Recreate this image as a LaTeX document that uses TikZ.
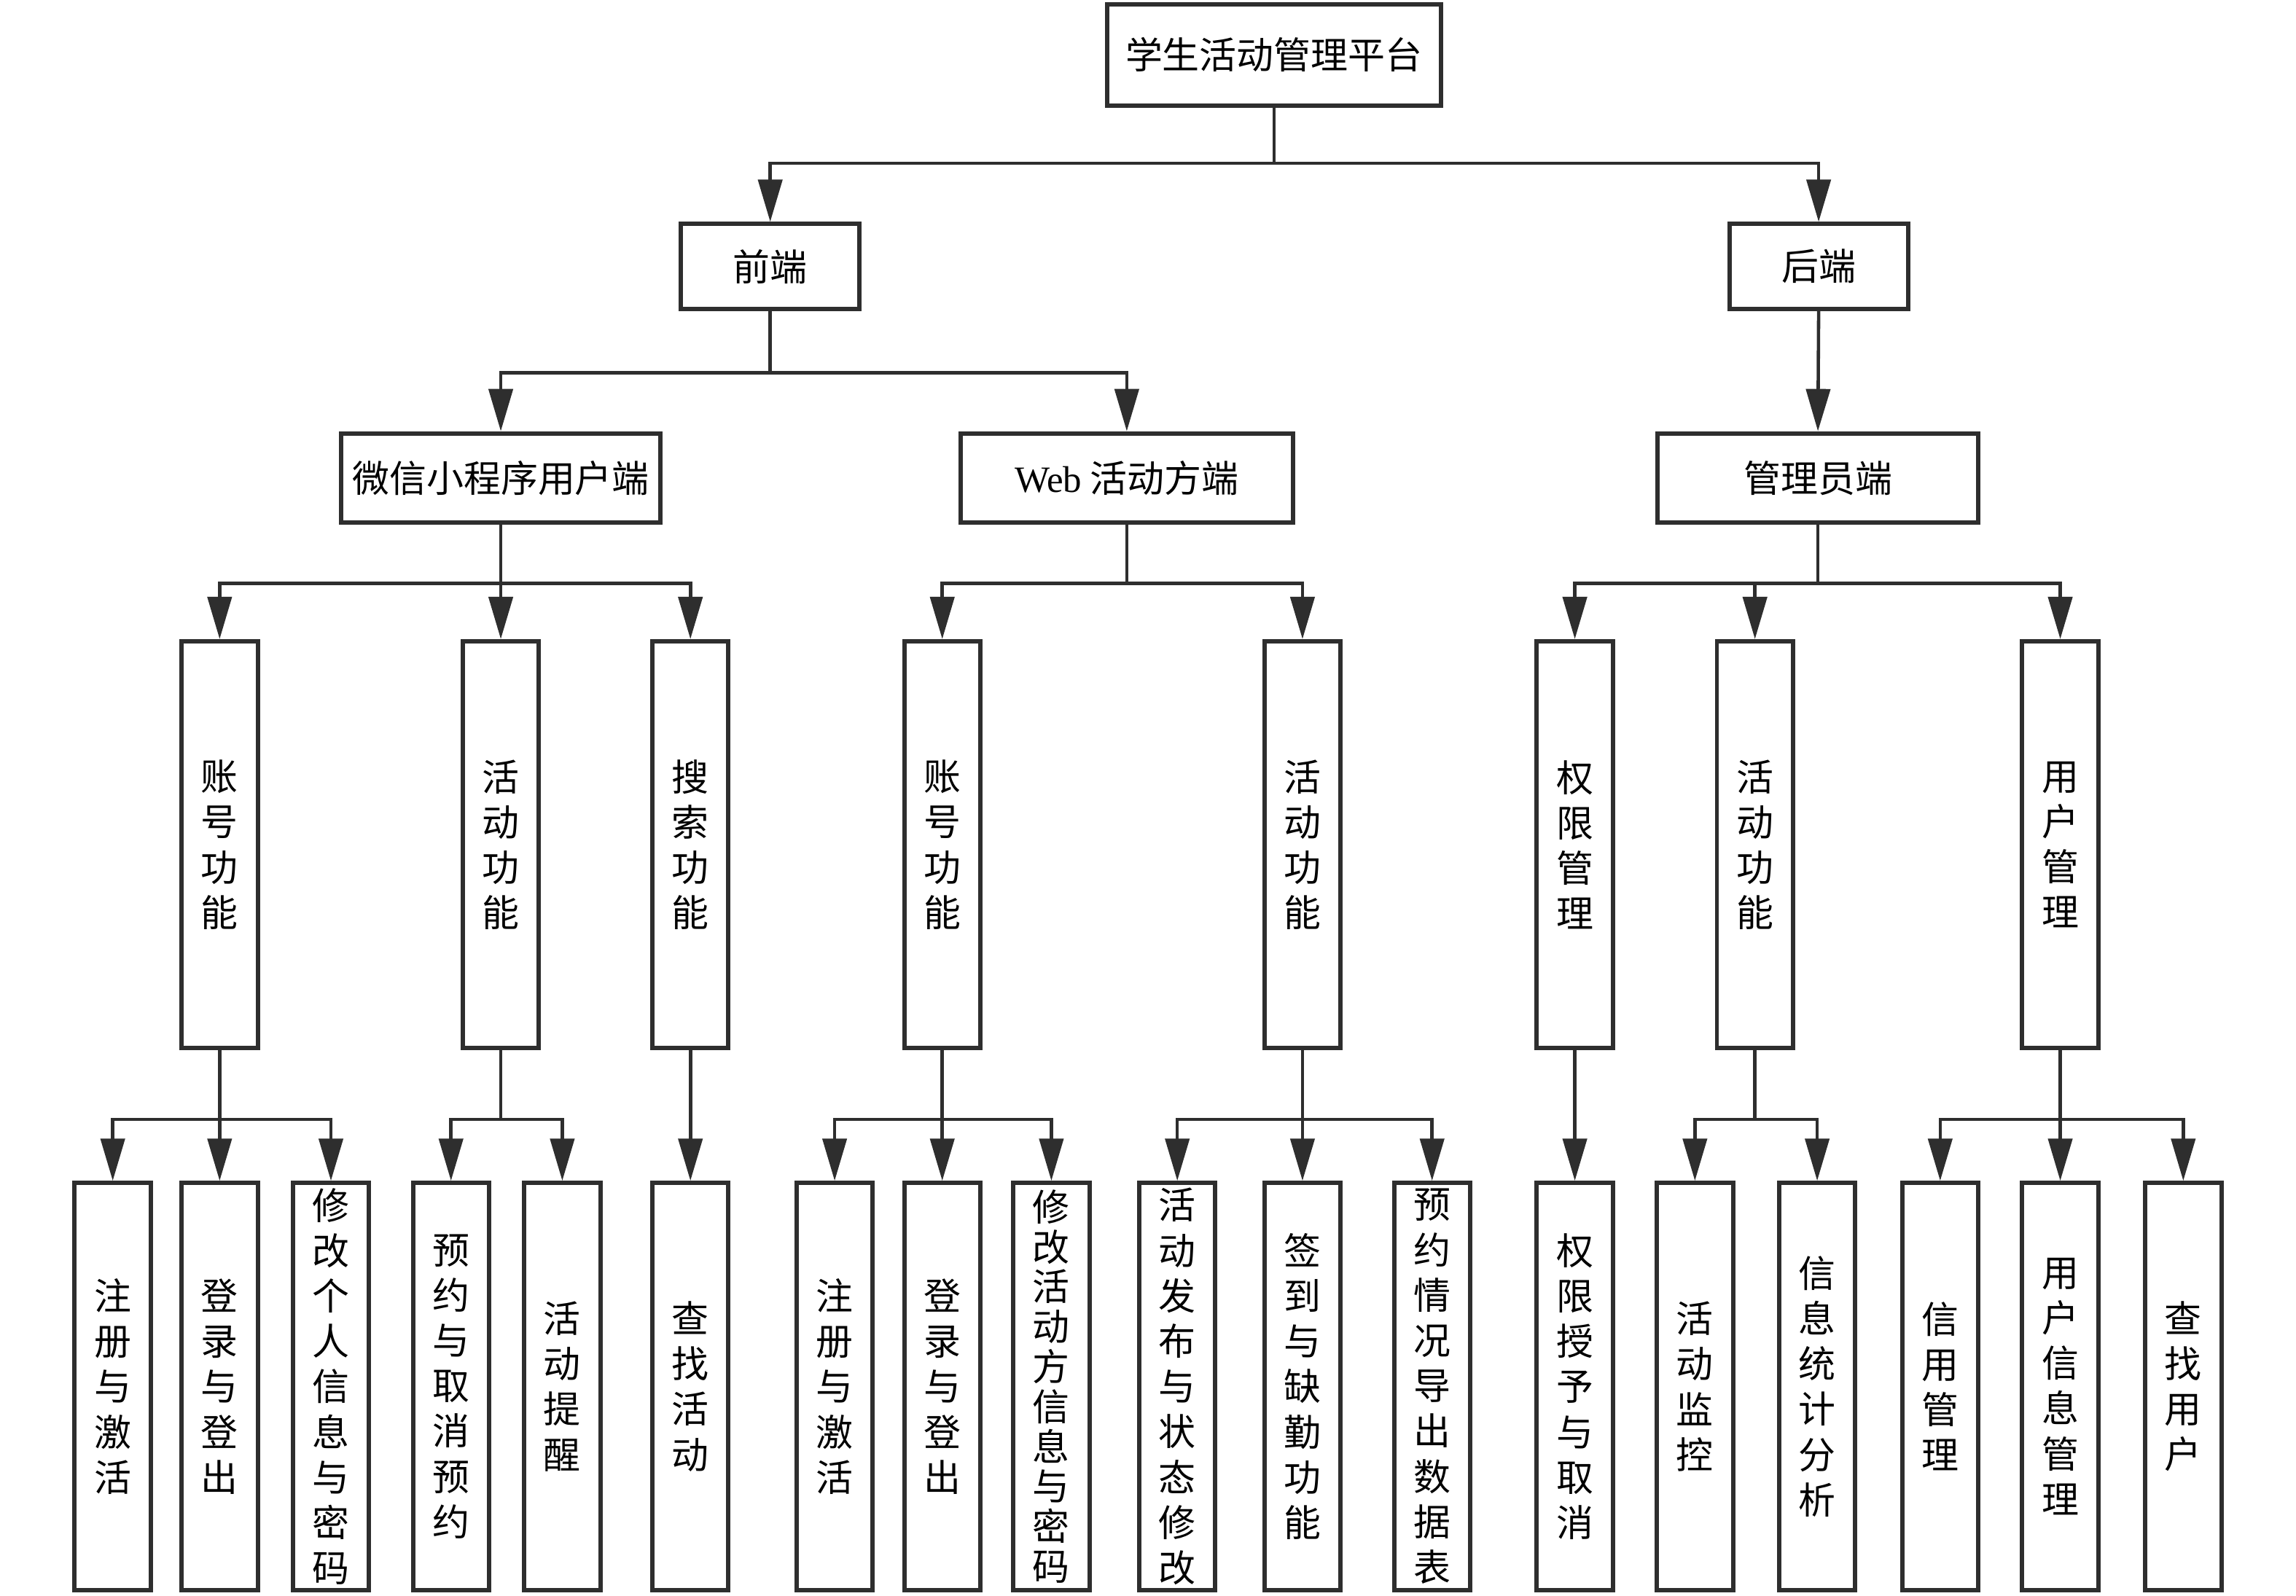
\documentclass[tikz,border=0pt]{standalone}
\usepackage{fontspec}
\setmainfont{Noto Sans CJK SC}
\newfontfamily\latinserif{Liberation Serif}
\usetikzlibrary{arrows.meta}
\newcommand{\pxu}{0.02009cm}
\definecolor{ink}{HTML}{2E2E2E}
\tikzset{
  box/.style={draw=ink, line width=1.7pt, inner sep=0pt, fill=white, text=black,
    font=\fontsize{14.5}{17.7}\selectfont, align=center},
  vbox/.style={box, minimum width=52*\pxu, minimum height=278*\pxu},
  tight/.style={font=\fontsize{14.5}{15.6}\selectfont},
  arr/.style={draw=ink, line width=1.3pt, -{Triangle[length=0.58cm,width=0.33cm]}},
}
\begin{document}
\begin{tikzpicture}[x=\pxu, y=-\pxu]
\useasboundingbox (0,0) rectangle (1568,1090);
% level 0-2
\node[box, minimum width=228*\pxu, minimum height=69*\pxu] (top) at (870,37.5) {学生活动管理平台};
\node[box, minimum width=122*\pxu, minimum height=58*\pxu] (front) at (526,182) {前端};
\node[box, minimum width=122*\pxu, minimum height=58*\pxu] (back) at (1242,182) {后端};
\node[box, minimum width=218*\pxu, minimum height=61*\pxu] (wx) at (342,326.5) {微信小程序用户端};
\node[box, minimum width=227*\pxu, minimum height=61*\pxu] (web) at (769.5,326.5) {{\latinserif Web} 活动方端};
\node[box, minimum width=219*\pxu, minimum height=61*\pxu] (adm) at (1241.5,326.5) {管理员端};
% level 3
\node[vbox] (a1) at (150,577) {账\\号\\功\\能};
\node[vbox] (a2) at (342,577) {活\\动\\功\\能};
\node[vbox] (a3) at (471.5,577) {搜\\索\\功\\能};
\node[vbox] (b1) at (643.5,577) {账\\号\\功\\能};
\node[vbox] (b2) at (889.5,577) {活\\动\\功\\能};
\node[vbox] (c1) at (1075.5,577) {权\\限\\管\\理};
\node[vbox] (c2) at (1198.5,577) {活\\动\\功\\能};
\node[vbox] (c3) at (1407,577) {用\\户\\管\\理};
% level 4
\node[vbox] (d1) at (77,947) {注\\册\\与\\激\\活};
\node[vbox] (d2) at (150,947) {登\\录\\与\\登\\出};
\node[vbox] (d3) at (226,947) {修\\改\\个\\人\\信\\息\\与\\密\\码};
\node[vbox] (d4) at (308,947) {预\\约\\与\\取\\消\\预\\约};
\node[vbox] (d5) at (384,947) {活\\动\\提\\醒};
\node[vbox] (d6) at (471.5,947) {查\\找\\活\\动};
\node[vbox] (e1) at (570,947) {注\\册\\与\\激\\活};
\node[vbox] (e2) at (643.5,947) {登\\录\\与\\登\\出};
\node[vbox, tight] (e3) at (718,947) {修\\改\\活\\动\\方\\信\\息\\与\\密\\码};
\node[vbox] (e4) at (804,947) {活\\动\\发\\布\\与\\状\\态\\修\\改};
\node[vbox] (e5) at (889.5,947) {签\\到\\与\\缺\\勤\\功\\能};
\node[vbox] (e6) at (978,947) {预\\约\\情\\况\\导\\出\\数\\据\\表};
\node[vbox] (f1) at (1075.5,947) {权\\限\\授\\予\\与\\取\\消};
\node[vbox] (f2) at (1157.5,947) {活\\动\\监\\控};
\node[vbox] (f3) at (1241,947) {信\\息\\统\\计\\分\\析};
\node[vbox] (f4) at (1325,947) {信\\用\\管\\理};
\node[vbox] (f5) at (1407,947) {用\\户\\信\\息\\管\\理};
\node[vbox] (f6) at (1491,947) {查\\找\\用\\户};
% connectors
\foreach \c in {front,back} \draw[arr] (top.south) -- ++(0,38) -| (\c.north);
\foreach \c in {wx,web} \draw[arr] (front.south) -- ++(0,42) -| (\c.north);
\draw[arr] (back.south) -- (adm.north);
\foreach \c in {a1,a2,a3} \draw[arr] (wx.south) -- ++(0,40) -| (\c.north);
\foreach \c in {b1,b2} \draw[arr] (web.south) -- ++(0,40) -| (\c.north);
\foreach \c in {c1,c2,c3} \draw[arr] (adm.south) -- ++(0,40) -| (\c.north);
\foreach \c in {d1,d2,d3} \draw[arr] (a1.south) -- ++(0,47) -| (\c.north);
\foreach \c in {d4,d5} \draw[arr] (a2.south) -- ++(0,47) -| (\c.north);
\draw[arr] (a3.south) -- (d6.north);
\foreach \c in {e1,e2,e3} \draw[arr] (b1.south) -- ++(0,47) -| (\c.north);
\foreach \c in {e4,e5,e6} \draw[arr] (b2.south) -- ++(0,47) -| (\c.north);
\draw[arr] (c1.south) -- (f1.north);
\foreach \c in {f2,f3} \draw[arr] (c2.south) -- ++(0,47) -| (\c.north);
\foreach \c in {f4,f5,f6} \draw[arr] (c3.south) -- ++(0,47) -| (\c.north);
\end{tikzpicture}
\end{document}
